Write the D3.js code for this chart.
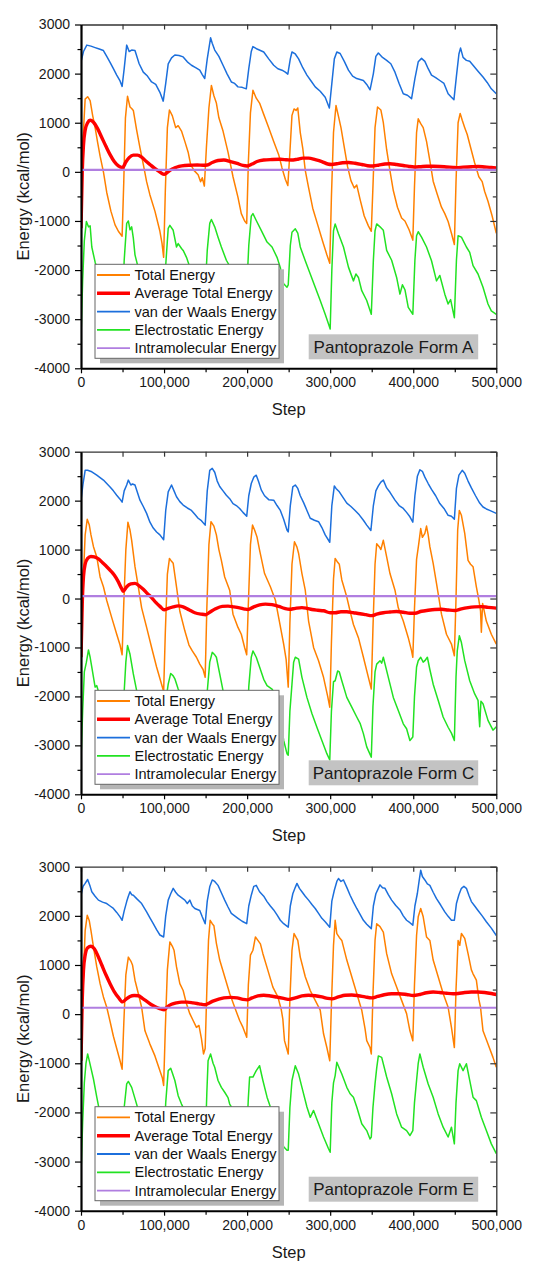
<!DOCTYPE html>
<html><head><meta charset="utf-8">
<script src="https://cdn.jsdelivr.net/npm/d3@7"></script>
<style>
body{margin:0;background:#fff}
svg{display:block}
text{font-family:"Liberation Sans",Arial,Helvetica,sans-serif}
</style>
</head><body>
<svg id="chart" width="537" height="1262"></svg>
<script>
// ---------- DATA (step, kcal/mol) ----------
const seriesNames = ["Total Energy","Average Total Energy","van der Waals Energy","Electrostatic Energy","Intramolecular Energy"];
const panelLabels = ["Pantoprazole Form A","Pantoprazole Form C","Pantoprazole Form E"];
const xTicks = [0,100000,200000,300000,400000,500000];
const yTicks = [-4000,-3000,-2000,-1000,0,1000,2000,3000];

// Form A
const totalA = [[0,-1120],[2500,700],[5000,1480],[8000,1530],[11000,1450],[14000,1150],[17000,900],[20000,600],[23000,320],[27000,0],[31000,-420],[36000,-800],[41000,-1080],[45000,-1210],[49500,-1310],
[51500,-200],[53500,1100],[56000,1540],[59000,1320],[61000,1290],[63000,1250],[67000,850],[71000,490],[75000,150],[79000,-200],[83000,-470],[89000,-800],[95000,-1210],[97500,-1450],[99500,-1740],
[101500,-400],[104000,900],[106500,1260],[110000,1140],[114000,900],[117000,940],[121000,830],[125000,620],[129000,400],[132000,150],[136000,30],[141000,-60],[144000,-200],[146000,-120],[148500,-290],
[151000,500],[154000,1300],[157000,1760],[160000,1550],[163000,1400],[166000,1100],[171000,830],[177000,400],[183000,-100],[189000,-520],[193000,-850],[197000,-1000],[199500,-1050],
[201500,200],[204000,1200],[207000,1660],[211000,1500],[215000,1400],[220000,1170],[226000,900],[232000,620],[238000,350],[242000,80],[246000,-150],[249000,-280],
[251500,400],[254000,1150],[256500,1280],[259000,1250],[261000,1300],[264000,800],[267000,480],[270000,30],[274000,-320],[279000,-740],[285000,-1080],[291000,-1420],[296000,-1690],[299500,-1860],
[301500,-500],[304000,800],[307000,1350],[310000,1130],[313000,900],[317000,500],[321000,100],[325000,-180],[329000,-330],[332000,-270],[336000,-560],[341000,-900],[346000,-1100],[349500,-1210],
[351500,-300],[354000,900],[357000,1320],[361000,1260],[364000,1000],[368000,450],[372000,20],[376000,-380],[381000,-720],[386000,-940],[390000,-1000],[395000,-1180],[399500,-1390],
[401500,-300],[404000,800],[406000,1080],[409000,980],[412000,900],[416000,620],[420000,230],[424000,-190],[429000,-460],[434000,-720],[438000,-850],[442000,-1010],[446000,-1250],[449500,-1480],
[451500,-200],[454000,1000],[456500,1190],[459000,1050],[462000,900],[465000,760],[469000,500],[474000,180],[479000,-100],[483000,-200],[486000,-400],[490000,-600],[495000,-900],[500000,-1250]];
const avgA = [[0,-1150],[1500,0],[3000,550],[5000,850],[8000,1000],[11000,1050],[15000,1010],[20000,880],[25000,700],[30000,520],[35000,350],[40000,210],[45000,120],[50000,85],[54000,200],[58000,290],[63000,340],[68000,340],[73000,300],[78000,220],[83000,150],[88000,80],[93000,20],[97000,-30],[100000,-50],[104000,-10],[108000,40],[113000,80],[118000,110],[125000,130],[132000,135],[140000,140],[147000,135],[152000,140],[158000,190],[165000,230],[172000,240],[180000,210],[188000,170],[195000,130],[200000,120],[206000,160],[212000,210],[220000,240],[230000,250],[240000,255],[248000,245],[253000,240],[260000,255],[267000,280],[274000,280],[282000,250],[290000,210],[297000,160],[302000,150],[308000,165],[315000,185],[322000,190],[330000,175],[338000,150],[345000,125],[351000,120],[358000,135],[366000,160],[372000,165],[380000,150],[388000,130],[395000,110],[401000,100],[408000,105],[416000,115],[424000,115],[432000,110],[440000,100],[448000,90],[452000,85],[460000,95],[470000,105],[478000,110],[486000,100],[494000,90],[500000,80]];
const vdwA = [[0,2240],[3000,2450],[7000,2580],[12000,2560],[17000,2530],[22000,2500],[27000,2470],[31000,2350],[35000,2230],[39000,2100],[43000,1970],[47000,1850],[49500,1740],
[52000,2100],[55000,2580],[58000,2450],[61000,2480],[65000,2470],[70000,2200],[75000,2030],[80000,1950],[85000,1830],[90000,1780],[95000,1620],[99000,1440],
[102000,1800],[105000,2200],[109000,2320],[113000,2380],[118000,2370],[123000,2340],[128000,2240],[133000,2170],[138000,2120],[143000,2070],[146000,1980],[149000,1900],
[152000,2300],[156000,2730],[158000,2620],[161000,2480],[166000,2350],[171000,2170],[176000,1990],[181000,1830],[185000,1800],[189000,1730],[194000,1720],[199000,1690],
[202000,2100],[205000,2450],[207000,2550],[212000,2500],[220000,2440],[226000,2300],[232000,2170],[237000,2100],[242000,2070],[246000,2030],[249000,1990],
[252000,2300],[254000,2440],[258000,2400],[262000,2300],[267000,2120],[272000,1970],[277000,1850],[282000,1730],[288000,1640],[294000,1520],[299000,1300],
[302000,1800],[305000,2300],[308000,2440],[312000,2410],[317000,2250],[322000,2070],[327000,1950],[332000,1900],[336000,1880],[340000,1860],[344000,1780],[348000,1670],
[352000,2000],[355000,2350],[358000,2420],[363000,2330],[368000,2270],[373000,2200],[378000,2030],[383000,1800],[388000,1590],[393000,1560],[398000,1490],
[402000,1900],[406000,2240],[410000,2310],[414000,2250],[418000,2100],[422000,1970],[427000,1920],[432000,1860],[437000,1800],[442000,1590],[446000,1520],[449000,1470],
[452000,1950],[455000,2400],[457000,2520],[460000,2330],[464000,2270],[468000,2250],[472000,2170],[478000,2050],[484000,1930],[489000,1820],[494000,1690],[500000,1590]];
const elecA = [[0,-3380],[2000,-2200],[4000,-1400],[6500,-1010],[9000,-1120],[11000,-1100],[13000,-1530],[17000,-1840],[20000,-2000],[25000,-2200],[32000,-2400],[40000,-2600],[46000,-2700],[49500,-2800],
[52000,-1800],[55000,-1050],[57000,-1000],[59000,-1180],[61000,-1120],[63000,-1350],[65000,-1690],[69000,-1960],[75000,-2200],[85000,-2500],[95000,-2750],[99500,-2850],
[102000,-1900],[105000,-1150],[107000,-1090],[111000,-1190],[115000,-1530],[117000,-1460],[121000,-1560],[123000,-1600],[127000,-1740],[131000,-1940],[138000,-2100],[145000,-2300],[149500,-2400],
[152000,-1600],[155000,-1050],[157000,-970],[161000,-1120],[165000,-1330],[169000,-1530],[175000,-1800],[185000,-2100],[195000,-2300],[199500,-2400],
[202000,-1500],[205000,-900],[207000,-850],[211000,-990],[217000,-1190],[224000,-1430],[230000,-1530],[236000,-1740],[240000,-1950],[242000,-2150],[244000,-2280],[248000,-2350],[249500,-2300],
[252000,-1500],[254000,-1230],[258000,-1160],[261000,-1250],[264000,-1530],[270000,-1810],[276000,-2080],[282000,-2350],[288000,-2620],[294000,-2900],[298000,-3100],[300000,-3200],
[302000,-2000],[304000,-1200],[306000,-1060],[310000,-1260],[316000,-1530],[322000,-1940],[328000,-2220],[331000,-2080],[334000,-2150],[338000,-2420],[344000,-2620],[349500,-2900],
[352000,-1800],[354000,-1200],[356000,-1060],[360000,-1120],[364000,-1190],[368000,-1600],[374000,-1800],[380000,-2150],[384000,-2490],[387000,-2300],[390000,-2400],[394000,-2760],[399500,-2900],
[402000,-1800],[404000,-1300],[406000,-1220],[410000,-1330],[416000,-1530],[422000,-1810],[428000,-2220],[432000,-2110],[438000,-2490],[442000,-2690],[445000,-2600],[449500,-2970],
[452000,-1800],[454000,-1300],[458000,-1330],[464000,-1530],[468000,-1640],[472000,-1910],[478000,-2080],[484000,-2350],[490000,-2690],[494000,-2830],[500000,-2900]];
const intraA = [[0,40],[500000,40]];

// Form C
const totalC = [[0,-1200],[2500,300],[5000,1300],[7500,1620],[10000,1500],[12000,1300],[15000,1060],[19000,850],[23000,440],[27000,240],[31000,-40],[37000,-390],[43000,-730],[47000,-950],[49500,-1150],
[51500,-100],[54000,1000],[56500,1560],[59000,1400],[61000,1190],[65000,650],[69000,240],[73000,-190],[79000,-590],[85000,-1000],[91000,-1400],[97000,-1750],[99500,-1900],
[101500,-700],[104000,500],[106500,820],[109000,760],[111000,720],[115000,240],[119000,-260],[125000,-660],[130000,-950],[134000,-1070],[139000,-1200],[143000,-1340],[147000,-1450],[149500,-1610],
[151500,-200],[154000,1100],[156500,1570],[160000,1480],[163000,1300],[166000,1000],[169000,780],[173000,440],[179000,170],[183000,-320],[189000,-590],[193000,-730],[197000,-1000],[199500,-1150],
[201500,-100],[204000,1100],[206500,1500],[209000,1400],[212000,1250],[215000,990],[221000,510],[228000,240],[234000,-30],[238000,-390],[244000,-930],[247000,-1250],[249500,-1810],
[251500,-500],[254000,700],[257000,1160],[260000,1050],[262000,920],[266000,510],[270000,170],[274000,-460],[280000,-1000],[286000,-1270],[292000,-1610],[297000,-2000],[299500,-2220],
[301500,-900],[304000,400],[306000,820],[309000,740],[311000,700],[314000,380],[320000,30],[324000,-260],[328000,-530],[334000,-800],[340000,-1200],[346000,-1610],[349500,-1850],
[351500,-600],[354000,700],[356000,1120],[359000,1060],[361000,1000],[364000,1190],[368000,850],[372000,510],[378000,170],[382000,-190],[388000,-460],[394000,-800],[398000,-1070],[399500,-1200],
[401500,-200],[404000,800],[406500,1100],[409000,1430],[411000,1250],[414000,1330],[416000,1480],[418000,1300],[420000,1060],[424000,720],[428000,310],[434000,-320],[440000,-730],[446000,-930],[449500,-1170],
[451500,0],[453500,1400],[455500,1800],[458000,1700],[462000,1330],[466000,780],[469000,700],[472000,650],[476000,240],[479000,-30],[481000,-250],[482000,-690],[483500,-100],[488000,-460],[494000,-730],[500000,-930]];
const avgC = [[0,-1200],[1500,-100],[3000,450],[5000,700],[8000,820],[12000,860],[16000,850],[21000,810],[26000,730],[31000,650],[36000,560],[40000,480],[45000,340],[49000,200],[51000,150],[55000,240],[60000,300],[65000,310],[70000,260],[75000,190],[80000,100],[85000,20],[90000,-80],[95000,-160],[100000,-230],[105000,-200],[111000,-170],[117000,-150],[123000,-170],[130000,-230],[137000,-290],[145000,-320],[150000,-330],[155000,-280],[162000,-210],[170000,-160],[177000,-155],[184000,-170],[191000,-190],[197000,-215],[201000,-225],[208000,-170],[215000,-130],[222000,-115],[230000,-125],[238000,-160],[245000,-200],[251000,-220],[258000,-200],[266000,-185],[272000,-200],[278000,-225],[285000,-240],[292000,-250],[300000,-290],[306000,-290],[313000,-270],[320000,-270],[328000,-290],[336000,-310],[343000,-330],[350000,-350],[356000,-320],[364000,-290],[372000,-275],[380000,-265],[388000,-280],[396000,-300],[402000,-300],[410000,-260],[418000,-240],[426000,-225],[434000,-220],[442000,-235],[450000,-245],[458000,-210],[466000,-185],[474000,-170],[482000,-165],[490000,-180],[500000,-195]];
const vdwC = [[0,2010],[2500,2350],[5000,2620],[8000,2620],[13000,2590],[19000,2520],[23000,2470],[27000,2420],[31000,2350],[35000,2280],[39000,2200],[43000,2110],[47000,2030],[49500,1970],
[52000,2200],[55000,2320],[57000,2420],[60000,2320],[62000,2340],[65000,2320],[71000,2010],[75000,1880],[79000,1740],[83000,1560],[87000,1440],[91000,1360],[95000,1300],[99500,1200],
[102000,1800],[105000,2180],[109000,2320],[112000,2200],[115000,2080],[119000,1980],[123000,1910],[128000,1850],[133000,1800],[137000,1720],[141000,1640],[145000,1590],[149500,1500],
[152000,2200],[155000,2620],[158000,2660],[161000,2580],[164000,2400],[167000,2290],[171000,2200],[175000,2110],[179000,2040],[183000,1940],[187000,1900],[191000,1840],[195000,1760],[199500,1680],
[202000,2100],[205000,2350],[208000,2480],[211000,2520],[214000,2380],[217000,2220],[221000,2100],[226000,2020],[232000,2010],[236000,1900],[240000,1800],[244000,1620],[248000,1400],[249500,1360],
[252000,1900],[255000,2280],[258000,2320],[261000,2250],[264000,2100],[268000,1960],[272000,1800],[276000,1640],[281000,1600],[286000,1570],[290000,1450],[294000,1300],[299500,1150],
[302000,1900],[305000,2300],[307000,2250],[311000,2180],[316000,2050],[320000,1950],[325000,1880],[330000,1800],[335000,1710],[340000,1600],[344000,1500],[349000,1390],
[352000,1900],[355000,2200],[358000,2300],[361000,2380],[364000,2420],[368000,2260],[372000,2170],[378000,2010],[383000,1900],[388000,1840],[392000,1760],[396000,1670],[399500,1560],
[402000,2100],[405000,2500],[408000,2630],[411000,2600],[414000,2480],[418000,2350],[422000,2230],[427000,2100],[432000,1940],[437000,1840],[442000,1700],[446000,1680],[449500,1620],
[452000,2250],[455000,2520],[459000,2620],[462000,2560],[466000,2400],[470000,2260],[475000,2100],[480000,1950],[484000,1870],[488000,1830],[492000,1800],[496000,1770],[500000,1740]];
const elecC = [[0,-3300],[2000,-2300],[4000,-1500],[6500,-1300],[9000,-1050],[11000,-1200],[13000,-1400],[17000,-1810],[19000,-1780],[21000,-1900],[26000,-2100],[34000,-2400],[42000,-2700],[49500,-2900],
[52000,-1900],[54000,-1300],[56000,-960],[59000,-1140],[63000,-1540],[67000,-1880],[72000,-2100],[80000,-2450],[90000,-2850],[99500,-3100],
[102000,-2100],[105000,-1750],[108000,-1530],[111000,-1580],[113000,-1640],[117000,-1850],[122000,-2000],[130000,-2300],[140000,-2600],[149500,-2850],
[152000,-1900],[155000,-1300],[158000,-1100],[161000,-1150],[163000,-1200],[167000,-1540],[171000,-1880],[178000,-2150],[186000,-2450],[194000,-2700],[199500,-2850],
[202000,-1800],[205000,-1200],[207000,-1070],[211000,-1200],[215000,-1400],[220000,-1650],[224000,-1780],[230000,-1850],[236000,-2020],[240000,-2400],[244000,-2900],[248000,-3170],[249500,-3200],
[251500,-2300],[254000,-1750],[256000,-1300],[258000,-1200],[262000,-1240],[266000,-1610],[272000,-2020],[278000,-2350],[284000,-2630],[290000,-2900],[296000,-3170],[299500,-3300],
[301500,-2300],[304000,-1700],[306000,-1680],[309000,-1480],[311000,-1500],[314000,-1680],[320000,-2020],[326000,-2220],[332000,-2420],[336000,-2550],[340000,-2760],[344000,-3030],[349500,-3240],
[351500,-2200],[354000,-1500],[356000,-1340],[360000,-1270],[362000,-1320],[364000,-1200],[370000,-1610],[376000,-2020],[382000,-2290],[388000,-2560],[392000,-2660],[396000,-2900],[399500,-2830],
[401500,-2000],[404000,-1400],[406000,-1270],[409000,-1200],[412000,-1300],[414000,-1270],[417000,-1200],[420000,-1450],[424000,-1750],[430000,-2080],[436000,-2420],[442000,-2630],[446000,-2750],[449500,-2900],
[451500,-1600],[453000,-1070],[455500,-760],[458000,-900],[462000,-1270],[468000,-1680],[474000,-1950],[478000,-2080],[480000,-2620],[481500,-2100],[484000,-2150],[490000,-2490],[496000,-2690],[500000,-2620]];
const intraC = [[0,50],[500000,50]];

// Form E
const totalE = [[0,-950],[2500,600],[5000,1700],[7500,2010],[10000,1900],[12000,1700],[15000,1370],[19000,960],[23000,620],[27000,350],[31000,140],[35000,-150],[39000,-450],[43000,-700],[47000,-950],[49500,-1120],
[51500,-200],[54000,800],[57000,1160],[60000,1080],[62000,1000],[65000,690],[69000,420],[73000,140],[77000,-340],[83000,-610],[89000,-850],[95000,-1150],[98000,-1300],[99500,-1450],
[101500,-300],[104000,900],[107000,1470],[110000,1380],[112000,1300],[115000,960],[119000,620],[123000,480],[127000,210],[131000,10],[135000,-130],[139000,-270],[142000,-230],[145000,-500],[147500,-810],[149500,-700],
[151500,500],[153500,1500],[155500,1910],[158000,1840],[160000,1800],[163000,1440],[167000,1100],[173000,760],[179000,420],[185000,140],[191000,-130],[195000,-270],[199500,-470],
[201500,600],[204000,1200],[207000,1300],[210000,1570],[213000,1500],[216000,1430],[219000,1230],[225000,890],[231000,550],[237000,350],[241000,100],[243000,-100],[245000,-540],[249500,-810],
[251500,300],[254000,1300],[256500,1640],[259000,1560],[261000,1500],[264000,1160],[270000,760],[276000,480],[282000,280],[288000,80],[292000,-400],[296000,-680],[299500,-950],
[301500,200],[304000,1400],[306000,1910],[308000,1640],[311000,1560],[314000,1500],[320000,1100],[326000,760],[332000,420],[338000,80],[342000,-300],[344000,-540],[348000,-680],[349500,-810],
[351500,400],[354000,1500],[356000,1840],[360000,1780],[364000,1670],[368000,1230],[374000,820],[380000,550],[386000,280],[392000,10],[396000,-340],[399500,-540],
[401500,600],[404000,1600],[406000,1980],[409000,2150],[412000,1980],[416000,1570],[420000,1500],[424000,1100],[430000,760],[436000,420],[442000,140],[446000,-270],[449500,-680],
[451500,500],[454000,1500],[456000,1400],[458000,1640],[462000,1540],[466000,1230],[470000,900],[472000,820],[476000,690],[479000,300],[481000,140],[484000,-340],[490000,-610],[496000,-880],[500000,-1080]];
const avgE = [[0,-950],[1500,300],[3000,900],[5000,1200],[8000,1350],[12000,1380],[16000,1330],[20000,1200],[25000,1000],[30000,800],[35000,620],[40000,460],[45000,340],[50000,250],[54000,300],[59000,360],[64000,380],[69000,375],[74000,320],[80000,250],[86000,180],[92000,130],[97000,100],[100000,90],[104000,150],[109000,200],[115000,230],[121000,245],[128000,245],[135000,230],[142000,210],[149000,190],[153000,215],[158000,260],[165000,300],[172000,330],[180000,340],[188000,330],[195000,300],[200000,290],[206000,330],[213000,370],[220000,385],[228000,370],[236000,345],[244000,320],[251000,300],[258000,330],[266000,370],[274000,385],[282000,375],[290000,350],[297000,320],[302000,310],[310000,350],[318000,385],[326000,390],[334000,375],[342000,350],[350000,330],[357000,360],[365000,395],[374000,415],[383000,415],[392000,400],[400000,380],[408000,400],[416000,435],[424000,450],[432000,440],[440000,425],[448000,415],[454000,420],[462000,440],[470000,450],[478000,450],[486000,440],[494000,420],[500000,400]];
const vdwE = [[0,2420],[2500,2600],[5000,2660],[8000,2740],[11000,2600],[13000,2490],[17000,2400],[21000,2320],[26000,2280],[31000,2250],[35000,2200],[39000,2150],[43000,2070],[47000,1980],[49500,1910],
[52000,2100],[55000,2290],[57000,2400],[59000,2490],[61000,2430],[63000,2420],[67000,2350],[73000,2250],[79000,2080],[83000,1960],[87000,1840],[91000,1720],[95000,1610],[99500,1570],
[102000,2000],[105000,2320],[108000,2450],[111000,2560],[114000,2480],[117000,2420],[121000,2370],[125000,2320],[128000,2250],[131000,2320],[134000,2200],[137000,2150],[143000,2110],[146000,1980],[149500,1840],
[152000,2300],[155000,2590],[158000,2730],[161000,2700],[165000,2620],[169000,2470],[173000,2320],[177000,2180],[181000,2050],[185000,2000],[189000,1950],[194000,1890],[199500,1840],
[202000,2200],[205000,2420],[208000,2600],[211000,2620],[215000,2490],[220000,2400],[224000,2290],[228000,2200],[232000,2120],[236000,2020],[240000,1910],[244000,1840],[249500,1770],
[252000,2200],[255000,2450],[258000,2580],[260000,2660],[263000,2560],[266000,2490],[270000,2400],[274000,2320],[278000,2230],[282000,2150],[286000,2050],[290000,1950],[294000,1880],[299500,1770],
[302000,2300],[305000,2520],[308000,2700],[310000,2760],[313000,2700],[316000,2730],[320000,2580],[324000,2420],[328000,2280],[332000,2150],[336000,2030],[340000,1910],[344000,1830],[349500,1740],
[352000,2200],[355000,2450],[358000,2560],[360000,2630],[363000,2570],[366000,2560],[370000,2430],[374000,2320],[379000,2210],[384000,2120],[388000,2000],[392000,1910],[396000,1860],[399500,1810],
[402000,2200],[405000,2460],[407000,2700],[409000,2930],[411000,2800],[414000,2730],[417000,2650],[420000,2620],[424000,2480],[428000,2350],[433000,2220],[438000,2080],[442000,1990],[446000,1910],[449500,1910],
[452000,2250],[455000,2430],[458000,2560],[461000,2600],[464000,2560],[467000,2420],[470000,2290],[474000,2200],[478000,2110],[483000,2000],[488000,1880],[494000,1750],[500000,1600]];
const elecE = [[0,-3250],[2000,-2200],[4000,-1400],[6000,-1000],[8000,-810],[10000,-950],[12000,-1100],[15000,-1320],[19000,-1690],[22000,-1950],[28000,-2150],[36000,-2400],[44000,-2600],[49500,-2750],
[52000,-1900],[55000,-1420],[57000,-1370],[61000,-1490],[65000,-1720],[69000,-1950],[75000,-2150],[85000,-2450],[93000,-2650],[99500,-2800],
[102000,-1800],[105000,-1150],[108000,-1100],[110000,-1200],[113000,-1350],[117000,-1660],[121000,-1830],[126000,-2000],[135000,-2300],[143000,-2550],[149500,-2700],
[151500,-1600],[153000,-950],[156000,-810],[159000,-1000],[161000,-1080],[165000,-1350],[169000,-1490],[173000,-1590],[177000,-1700],[179000,-1830],[185000,-2000],[192000,-2250],[199500,-2450],
[201500,-1700],[203000,-1280],[207000,-1280],[211000,-1150],[215000,-1050],[219000,-1350],[224000,-1690],[228000,-1890],[233000,-2100],[238000,-2350],[242000,-2600],[244000,-2700],[248000,-2770],[249500,-2770],
[251500,-1900],[254000,-1350],[258000,-1050],[262000,-1220],[266000,-1490],[272000,-1890],[276000,-2100],[280000,-1960],[286000,-2230],[292000,-2500],[298000,-2740],[300000,-2810],
[302000,-1800],[304000,-1400],[306000,-1250],[308000,-980],[311000,-1100],[314000,-1220],[320000,-1490],[324000,-1620],[328000,-1690],[332000,-1890],[338000,-2230],[344000,-2370],[348000,-2540],[349500,-2500],
[351500,-1900],[354000,-1420],[356000,-1100],[358000,-850],[362000,-880],[368000,-1280],[374000,-1620],[380000,-2030],[386000,-2300],[392000,-2370],[396000,-2470],[399500,-2370],
[401500,-1800],[404000,-1350],[406000,-1000],[408000,-810],[412000,-1080],[418000,-1420],[424000,-1690],[430000,-2030],[436000,-2300],[442000,-2500],[446000,-2300],[449500,-2640],
[451500,-1800],[454000,-1150],[456000,-1010],[460000,-1150],[464000,-1010],[468000,-1350],[472000,-1690],[476000,-1760],[482000,-2100],[488000,-2370],[494000,-2640],[500000,-2840]];
const intraE = [[0,130],[500000,130]];

// ---------- LAYOUT ----------
const colors = ["#ff8000","#ff0000","#1c6fdc","#22e222","#b07ee0"];
const widths = [1.5,3.4,1.5,1.5,2.2];
const panelData = [
  {label: panelLabels[0], top: 24.5,  bottom: 368.3,  series: [totalA, avgA, vdwA, elecA, intraA]},
  {label: panelLabels[1], top: 451.7, bottom: 794.3,  series: [totalC, avgC, vdwC, elecC, intraC]},
  {label: panelLabels[2], top: 866.7, bottom: 1210.7, series: [totalE, avgE, vdwE, elecE, intraE]}
];
const left = 81, right = 496.3;
const svg = d3.select("#chart");
const fmt = d3.format(",");
const minorY = d3.range(-3500, 3000, 1000);
const minorX = [50000,150000,250000,350000,450000];

panelData.forEach((p, pi) => {
  const x = d3.scaleLinear().domain([0, 500000]).range([left, right]);
  const y = d3.scaleLinear().domain([-4000, 3000]).range([p.bottom, p.top]);
  const g = svg.append("g");
  const clipId = "clip" + pi;
  g.append("clipPath").attr("id", clipId).append("rect")
    .attr("x", left).attr("y", p.top).attr("width", right - left).attr("height", p.bottom - p.top);

  const plot = g.append("g").attr("clip-path", `url(#${clipId})`);
  p.series.forEach((s, si) => {
    const line = d3.line().x(d => x(d[0])).y(d => y(d[1]));
    if (si === 1) line.curve(d3.curveMonotoneX);
    plot.append("path").datum(s).attr("d", line)
      .attr("fill", "none").attr("stroke", colors[si]).attr("stroke-width", widths[si])
      .attr("stroke-linejoin", "round");
  });

  // axes
  const styleAxis = (sel, col, w) => {
    sel.select(".domain").attr("stroke", col).attr("stroke-width", w);
    sel.selectAll(".tick line").attr("stroke", col).attr("stroke-width", 1.2);
  };
  const top = g.append("g").attr("transform", `translate(0,${p.top})`)
    .call(d3.axisTop(x).tickValues(xTicks.concat(minorX)).tickSize(-5).tickSizeOuter(0).tickFormat(""));
  styleAxis(top, "#333", 1.3);
  const rt = g.append("g").attr("transform", `translate(${right},0)`)
    .call(d3.axisRight(y).tickValues(yTicks).tickSize(-6).tickSizeOuter(0).tickFormat(""));
  styleAxis(rt, "#333", 1.3);
  const rtm = g.append("g").attr("transform", `translate(${right},0)`)
    .call(d3.axisRight(y).tickValues(minorY).tickSize(-3.5).tickSizeOuter(0).tickFormat(""));
  styleAxis(rtm, "#333", 0);
  const bt = g.append("g").attr("transform", `translate(0,${p.bottom})`)
    .call(d3.axisBottom(x).tickValues(xTicks).tickSize(5).tickSizeOuter(0).tickPadding(4).tickFormat(d => fmt(d)));
  styleAxis(bt, "#000", 2);
  bt.selectAll("text").attr("font-size", "14px").attr("fill", "#1a1a1a")
    .attr("font-family", '"Liberation Sans", Arial, sans-serif');
  const btm = g.append("g").attr("transform", `translate(0,${p.bottom})`)
    .call(d3.axisBottom(x).tickValues(minorX).tickSize(4).tickSizeOuter(0).tickFormat(""));
  styleAxis(btm, "#000", 0);
  const lf = g.append("g").attr("transform", `translate(${left},0)`)
    .call(d3.axisLeft(y).tickValues(yTicks).tickSize(6).tickSizeOuter(0).tickPadding(5).tickFormat(d => d));
  styleAxis(lf, "#000", 2.2);
  lf.selectAll("text").attr("font-size", "14px").attr("fill", "#1a1a1a")
    .attr("font-family", '"Liberation Sans", Arial, sans-serif');
  const lfm = g.append("g").attr("transform", `translate(${left},0)`)
    .call(d3.axisLeft(y).tickValues(minorY).tickSize(3.5).tickSizeOuter(0).tickFormat(""));
  styleAxis(lfm, "#000", 0);

  // axis titles
  g.append("text").attr("x", (left + right) / 2).attr("y", p.bottom + 41)
    .attr("text-anchor", "middle").attr("dominant-baseline", "central")
    .attr("font-size", "16.5px").attr("fill", "#1a1a1a").text("Step");
  g.append("text").attr("transform", `translate(23,${(p.top + p.bottom) / 2}) rotate(-90)`)
    .attr("text-anchor", "middle").attr("dominant-baseline", "central")
    .attr("font-size", "16.5px").attr("fill", "#1a1a1a").text("Energy (kcal/mol)");

  // legend
  const lx = 95, lw = 184, lh = 94, ly = p.bottom - 10 - lh;
  g.append("rect").attr("x", lx + 5).attr("y", ly + 5).attr("width", lw).attr("height", lh).attr("fill", "#b5b5b5");
  g.append("rect").attr("x", lx).attr("y", ly).attr("width", lw).attr("height", lh)
    .attr("fill", "#fff").attr("stroke", "#666").attr("stroke-width", 1);
  seriesNames.forEach((n, i) => {
    const ry = ly + 10.7 + i * 18.3;
    g.append("line").attr("x1", lx + 2).attr("x2", lx + 35).attr("y1", ry).attr("y2", ry)
      .attr("stroke", colors[i]).attr("stroke-width", i === 1 ? 3.4 : 1.8);
    g.append("text").attr("x", lx + 39.5).attr("y", ry).attr("dominant-baseline", "central")
      .attr("font-size", "14.5px").attr("fill", "#111").text(n);
  });

  // label box
  const bx = 308.7, bw = 169.5, bh = 25, by = p.bottom - 9 - bh;
  g.append("rect").attr("x", bx).attr("y", by).attr("width", bw).attr("height", bh).attr("fill", "#c3c3c3");
  g.append("text").attr("x", bx + bw / 2).attr("y", by + bh / 2 + 0.5)
    .attr("text-anchor", "middle").attr("dominant-baseline", "central")
    .attr("font-size", "17px").attr("fill", "#1a1a1a").text(p.label);
});
</script>
</body></html>
